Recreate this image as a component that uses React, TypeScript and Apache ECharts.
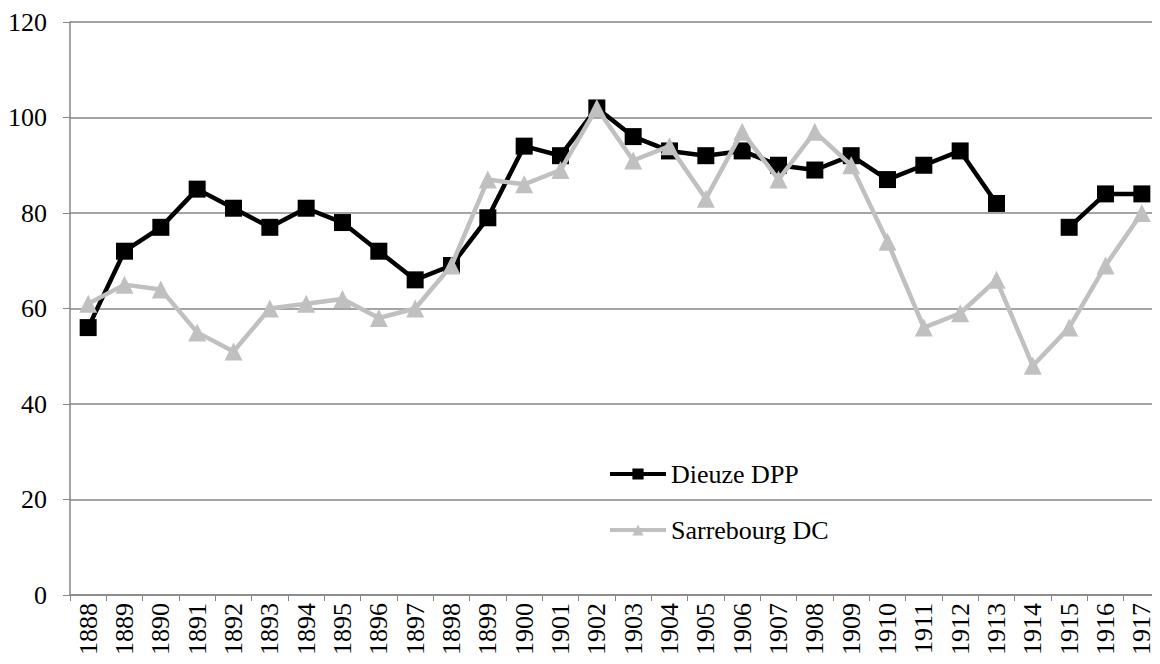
import React, { useEffect, useRef } from "react";
import * as echarts from "echarts";

const years = [
  "1888", "1889", "1890", "1891", "1892", "1893", "1894", "1895", "1896", "1897",
  "1898", "1899", "1900", "1901", "1902", "1903", "1904", "1905", "1906", "1907",
  "1908", "1909", "1910", "1911", "1912", "1913", "1914", "1915", "1916", "1917",
];

const dieuzeDPP = [
  56, 72, 77, 85, 81, 77, 81, 78, 72, 66,
  69, 79, 94, 92, 102, 96, 93, 92, 93, 90,
  89, 92, 87, 90, 93, 82, null, 77, 84, 84,
];

const sarrebourgDC = [
  61, 65, 64, 55, 51, 60, 61, 62, 58, 60,
  69, 87, 86, 89, 102, 91, 94, 83, 97, 87,
  97, 90, 74, 56, 59, 66, 48, 56, 69, 80,
];

const seriesNames = ["Dieuze DPP", "Sarrebourg DC"];

const FONT = "Liberation Serif";
const FONT_SIZE = 26;
const AXIS_GRAY = "#868686";

export default function App() {
  const ref = useRef<HTMLDivElement>(null);

  useEffect(() => {
    if (!ref.current) return;
    const chart = echarts.init(ref.current, null, { renderer: "svg" });
    chart.setOption({
      animation: false,
      backgroundColor: "#ffffff",
      textStyle: { fontFamily: FONT },
      grid: { left: 70, right: 0, top: 22, bottom: 69, containLabel: false },
      legend: {
        orient: "vertical",
        left: 603,
        top: 456,
        itemGap: 30,
        itemWidth: 56,
        itemHeight: 14,
        lineStyle: { width: 4 },
        textStyle: { fontFamily: FONT, fontSize: FONT_SIZE, color: "#000" },
        data: seriesNames,
      },
      xAxis: {
        type: "category",
        data: years,
        boundaryGap: true,
        axisLine: { show: true, lineStyle: { color: AXIS_GRAY, width: 1.5 } },
        axisTick: { show: true, length: 6, alignWithLabel: false, lineStyle: { color: AXIS_GRAY } },
        axisLabel: {
          rotate: 90,
          interval: 0,
          margin: 8,
          fontSize: FONT_SIZE,
          fontFamily: FONT,
          color: "#000",
        },
        splitLine: { show: false },
      },
      yAxis: {
        type: "value",
        min: 0,
        max: 120,
        interval: 20,
        axisLine: { show: true, lineStyle: { color: AXIS_GRAY, width: 1.5 } },
        axisTick: { show: true, length: 7, lineStyle: { color: AXIS_GRAY } },
        axisLabel: { margin: 23, fontSize: FONT_SIZE, fontFamily: FONT, color: "#000" },
        splitLine: { show: true, lineStyle: { color: AXIS_GRAY, width: 1.5 } },
      },
      series: [
        {
          name: seriesNames[0],
          type: "line",
          data: dieuzeDPP,
          connectNulls: false,
          symbol: "rect",
          symbolSize: 17,
          showAllSymbol: true,
          lineStyle: { color: "#000000", width: 4.5 },
          itemStyle: { color: "#000000" },
          z: 2,
        },
        {
          name: seriesNames[1],
          type: "line",
          data: sarrebourgDC,
          symbol: "triangle",
          symbolSize: 18,
          showAllSymbol: true,
          lineStyle: { color: "#c0c0c0", width: 4.5 },
          itemStyle: { color: "#c0c0c0" },
          z: 3,
        },
      ],
    });
    return () => chart.dispose();
  }, []);

  return <div ref={ref} style={{ width: 1160, height: 664, margin: -8 }} />;
}
